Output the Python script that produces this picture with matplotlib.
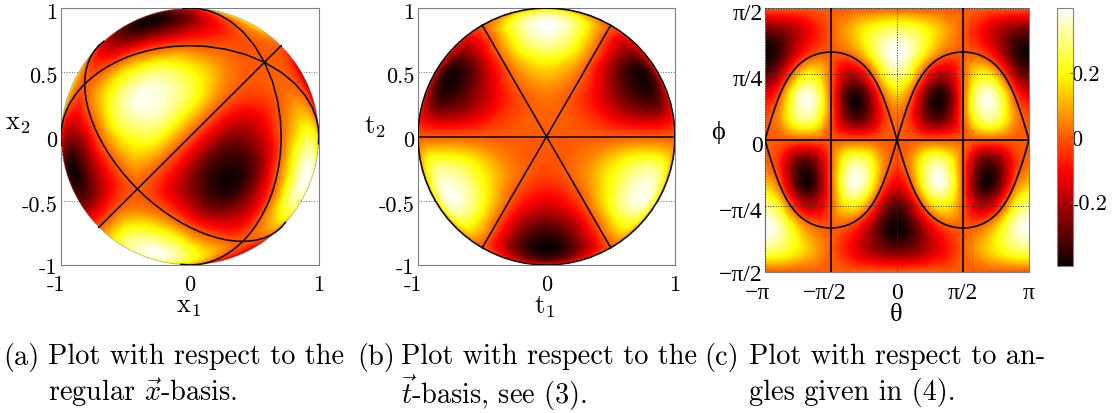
import numpy as np
import matplotlib
matplotlib.use("Agg")
import matplotlib.pyplot as plt
from matplotlib.transforms import ScaledTranslation
from matplotlib.tri import Triangulation, CubicTriInterpolator

plt.rcParams['font.family'] = ['cmr10', 'DejaVu Sans']
plt.rcParams['mathtext.fontset'] = 'cm'
plt.rcParams['axes.unicode_minus'] = False

# =========================
# Data
# =========================
theta_deg = np.arange(-180, 181, 15)
phi_deg = np.arange(90, -91, -15)

# colour value per row (phi) and column (theta)
field = np.array([
    [0]*25,
    [-.285, -.27, -.235, -.18, -.12, -.06, 0, .06, .12, .18, .235, .27, .285, .27, .235, .18, .12, .06, 0, -.06, -.12, -.18, -.235, -.27, -.285],
    [-.40, -.36, -.26, -.14, -.05, -.007, 0, .007, .05, .14, .26, .36, .40, .36, .26, .14, .05, .007, 0, -.007, -.05, -.14, -.26, -.36, -.40],
    [-.31, -.24, -.065, .11, .19, .145, 0, -.145, -.19, -.11, .065, .24, .31, .24, .065, -.11, -.19, -.145, 0, .145, .19, .11, -.065, -.24, -.31],
    [-.13, -.05, .145, .33, .38, .255, 0, -.255, -.38, -.33, -.145, .05, .13, .05, -.145, -.33, -.38, -.255, 0, .255, .38, .33, .145, -.05, -.13],
    [-.02, .035, .17, .29, .31, .20, 0, -.20, -.31, -.29, -.17, -.035, .02, -.035, -.17, -.29, -.31, -.20, 0, .20, .31, .29, .17, .035, -.02],
    [0]*25,
    [.02, -.035, -.17, -.29, -.31, -.20, 0, .20, .31, .29, .17, .035, -.02, .035, .17, .29, .31, .20, 0, -.20, -.31, -.29, -.17, -.035, .02],
    [.13, .05, -.145, -.33, -.38, -.255, 0, .255, .38, .33, .145, -.05, -.13, -.05, .145, .33, .38, .255, 0, -.255, -.38, -.33, -.145, .05, .13],
    [.31, .24, .065, -.11, -.19, -.145, 0, .145, .19, .11, -.065, -.24, -.31, -.24, -.065, .11, .19, .145, 0, -.145, -.19, -.11, .065, .24, .31],
    [.40, .36, .26, .14, .05, .007, 0, -.007, -.05, -.14, -.26, -.36, -.40, -.36, -.26, -.14, -.05, -.007, 0, .007, .05, .14, .26, .36, .40],
    [.285, .27, .235, .18, .12, .06, 0, -.06, -.12, -.18, -.235, -.27, -.285, -.27, -.235, -.18, -.12, -.06, 0, .06, .12, .18, .235, .27, .285],
    [0]*25,
], dtype=float)

# black arch in panel (c), theta = 0..180 in steps of 5
arch_theta = np.arange(0, 181, 5)
arch_phi = np.array([
    0, 8.6, 16.7, 24.1, 30.6, 36.2, 40.9, 44.8, 48.1, 50.8, 53.0, 54.8, 56.3,
    57.5, 58.4, 59.1, 59.6, 59.9, 60, 59.9, 59.6, 59.1, 58.4, 57.5, 56.3,
    54.8, 53.0, 50.8, 48.1, 44.8, 40.9, 36.2, 30.6, 24.1, 16.7, 8.6, 0,
])
line_theta = np.arange(-180, 181, 5)
line_phi = np.arange(-90, 91, 5)

captions = [
    ("(a)", "Plot with respect to the", r"regular $\vec{x}$-basis."),
    ("(b)", "Plot with respect to the", r"$\vec{t}$-basis, see (3)."),
    ("(c)", "Plot with respect to an-", "gles given in (4)."),
]
caption_x = [(3, 48), (357, 401), (704, 749)]

VMIN, VMAX = -0.4, 0.4
W, H = 1113, 414
TICK_SIZE = 16
LABEL_SIZE = 19
CAPTION_SIZE = 20.4
LINE_W = 1.15
SERIF = 'Liberation Serif'


def px_axes(left, top, right, bottom):
    return fig.add_axes([left / W, 1 - bottom / H, (right - left) / W, (bottom - top) / H])


def px_text(x, y, s, **kw):
    fig.text(x / W, 1 - y / H, s, ha='center', va='center', **kw)


def shift(label, dx=0, dy=0):
    # move one tick label by some pixels
    label.set_transform(label.get_transform() + ScaledTranslation(dx / 100, dy / 100, fig.dpi_scale_trans))


# =========================
# Sphere views
# =========================
th_grid, ph_grid = np.meshgrid(theta_deg, phi_deg)
tri = Triangulation(th_grid.ravel(), ph_grid.ravel())
interp = CubicTriInterpolator(tri, field.ravel(), kind='geom')


def sample(th, ph):
    return np.ma.filled(interp(th, ph), np.nan)


def to_t(th, ph):
    th, ph = np.radians(th), np.radians(ph)
    return np.cos(ph) * np.sin(th), np.sin(ph), np.cos(ph) * np.cos(th)


def t_to_x(t1, t2, t3):
    s2, s3, s6 = np.sqrt(2), np.sqrt(3), np.sqrt(6)
    return t1 / s6 + t2 / s2 + t3 / s3, t1 / s6 - t2 / s2 + t3 / s3, -2 * t1 / s6 + t3 / s3


def x_to_t(x1, x2, x3):
    s2, s3, s6 = np.sqrt(2), np.sqrt(3), np.sqrt(6)
    return (x1 + x2 - 2 * x3) / s6, (x1 - x2) / s2, (x1 + x2 + x3) / s3


def disc_image(view):
    u = np.linspace(-1, 1, 520)
    U, V = np.meshgrid(u, u)
    R2 = U**2 + V**2
    W3 = np.sqrt(np.clip(1 - R2, 0, 1))
    t1, t2, t3 = view(U, V, W3)
    img = sample(np.degrees(np.arctan2(t1, t3)), np.degrees(np.arcsin(np.clip(t2, -1, 1))))
    img[R2 > 1] = np.nan
    return img


curves = [
    (arch_theta, arch_phi), (arch_theta, -arch_phi),
    (-arch_theta, arch_phi), (-arch_theta, -arch_phi),
    (line_theta, np.zeros_like(line_theta)),
    (np.full_like(line_phi, -90), line_phi), (np.full_like(line_phi, 90), line_phi),
]


def style_axes(ax):
    for sp in ax.spines.values():
        sp.set_color('#808080')
        sp.set_linewidth(0.8)
    ax.tick_params(length=0, labelsize=TICK_SIZE)
    ax.tick_params(axis='x', pad=6.5)
    ax.tick_params(axis='y', pad=2.5)


fig = plt.figure(figsize=(W / 100, H / 100), dpi=100)

# =========================
# Panels (a) and (b)
# =========================
disc_ticks_x = [-1, 0, 1]
disc_ticks_y = [-1, -0.5, 0, 0.5, 1]
disc_label_x = ['-1', '0', '1']
disc_label_y = ['-1', '-0.5', '0', '0.5', '1']

for box, view, name in [((61, 9, 319, 266), x_to_t, 'x'), ((418, 9, 675, 266), None, 't')]:
    ax = px_axes(*box)
    style_axes(ax)
    func = view if view else (lambda a, b, c: (a, b, c))
    ax.imshow(disc_image(func), extent=(-1, 1, -1, 1), origin='lower', cmap='hot',
              vmin=VMIN, vmax=VMAX, interpolation='bilinear', aspect='auto', zorder=2)
    for th, ph in curves:
        t1, t2, t3 = to_t(th, ph)
        if name == 'x':
            cx, cy, front = t_to_x(t1, t2, t3)
        else:
            cx, cy, front = t1, t2, t3
        keep = front >= -0.09
        ax.plot(np.where(keep, cx, np.nan), np.where(keep, cy, np.nan), color='#0a0a0a', lw=LINE_W, zorder=3)
    ax.set_xlim(-1, 1)
    ax.set_ylim(-1, 1)
    ax.set_xticks(disc_ticks_x, disc_label_x)
    ax.set_yticks(disc_ticks_y, disc_label_y)
    ax.grid(True, linestyle=':', color='#707070', lw=0.7, zorder=1)
    ax.set_axisbelow(True)
    shift(ax.get_xticklabels()[0], dx=-5)
    for lab in ax.get_yticklabels()[1:]:
        shift(lab, dy=-2)

px_text(188, 307, r'$\mathrm{x}_1$', fontsize=LABEL_SIZE)
px_text(18, 124, r'$\mathrm{x}_2$', fontsize=LABEL_SIZE)
px_text(545, 307, r'$\mathrm{t}_1$', fontsize=LABEL_SIZE)
px_text(375, 127, r'$\mathrm{t}_2$', fontsize=LABEL_SIZE)

# =========================
# Panel (c)
# =========================
ax = px_axes(765, 9, 1029, 273)
style_axes(ax)
th_fine, ph_fine = np.meshgrid(np.linspace(-180, 180, 530), np.linspace(-90, 90, 530))
im = ax.imshow(sample(th_fine, ph_fine), extent=(-180, 180, -90, 90), origin='lower', cmap='hot',
               vmin=VMIN, vmax=VMAX, interpolation='bilinear', aspect='auto', zorder=1)
for th, ph in curves:
    ax.plot(th, ph, color='#0a0a0a', lw=LINE_W + 0.1, zorder=3)
ax.set_xlim(-180, 180)
ax.set_ylim(-90, 90)
ax.set_xticks([-180, -90, 0, 90, 180], ['\u2212\u03c0', '\u2212\u03c0/2', '0', '\u03c0/2', '\u03c0'],
              family=SERIF, fontsize=TICK_SIZE + 1)
ax.set_yticks([-90, -45, 0, 45, 90], ['\u2212\u03c0/2', '\u2212\u03c0/4', '0', '\u03c0/4', '\u03c0/2'],
              family=SERIF, fontsize=TICK_SIZE + 1)
ax.tick_params(axis='x', pad=7)
ax.tick_params(axis='y', pad=1.5)
ax.grid(True, linestyle=':', color='#303030', lw=0.7, zorder=2)
ax.set_axisbelow(False)
shift(ax.get_xticklabels()[0], dx=-7)
shift(ax.get_xticklabels()[1], dx=-6)
for lab in ax.get_yticklabels():
    shift(lab, dy=-3)
shift(ax.get_yticklabels()[0], dy=3)

px_text(896, 315, '\u03b8', fontsize=LABEL_SIZE, family=SERIF)
px_text(718, 133, '\u03d5', fontsize=LABEL_SIZE, family=SERIF)

cax = px_axes(1057, 9, 1073, 267)
cb = fig.colorbar(im, cax=cax, ticks=[-0.2, 0, 0.2])
cb.ax.set_yticklabels(['-0.2', '0', '0.2'])
cb.ax.tick_params(length=2, direction='in', labelsize=TICK_SIZE, pad=-1, color='#606060')
cb.outline.set_edgecolor('#808080')
cb.outline.set_linewidth(0.8)

# =========================
# Captions
# =========================
for (tag, first, second), (x0, x1) in zip(captions, caption_x):
    fig.text(x0 / W, 1 - 357 / H, tag, fontsize=CAPTION_SIZE, va='center')
    fig.text(x1 / W, 1 - 357 / H, first, fontsize=CAPTION_SIZE, va='center')
    fig.text(x1 / W, 1 - 393 / H, second, fontsize=CAPTION_SIZE, va='center')

fig.savefig("out.png", dpi=100)
